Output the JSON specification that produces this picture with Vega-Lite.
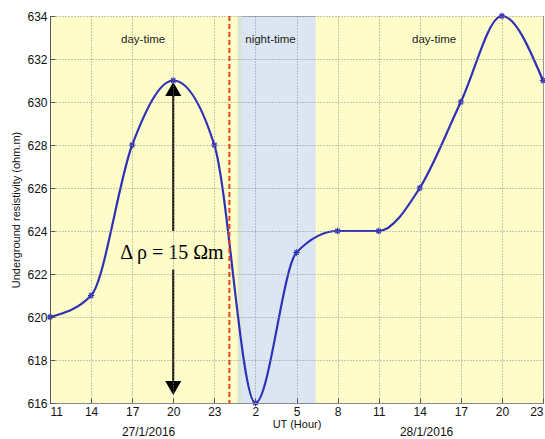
{
  "$schema": "https://vega.github.io/schema/vega-lite/v6.json",
  "width": 493,
  "height": 387,
  "autosize": "none",
  "padding": {"left": 50, "top": 16, "right": 2, "bottom": 36},
  "background": "white",
  "config": {
    "view": {"stroke": "#999999", "strokeWidth": 1},
    "axis": {"labelFont": "Liberation Sans", "labelFontSize": 12, "labelColor": "#111", "titleFont": "Liberation Sans", "titleFontSize": 11, "titleFontWeight": "normal", "titleColor": "#111", "domainColor": "#888", "tickColor": "#555", "gridColor": "#888", "gridDash": [1, 2], "gridOpacity": 0.9}
  },
  "datasets": {
    "curve": [
      {"hour": 11, "rho": 620}, {"hour": 14, "rho": 621}, {"hour": 17, "rho": 628},
      {"hour": 20, "rho": 631}, {"hour": 23, "rho": 628}, {"hour": 26, "rho": 616},
      {"hour": 29, "rho": 623}, {"hour": 32, "rho": 624}, {"hour": 35, "rho": 624},
      {"hour": 38, "rho": 626}, {"hour": 41, "rho": 630}, {"hour": 44, "rho": 634},
      {"hour": 47, "rho": 631}
    ],
    "bands": [
      {"start": 11, "end": 25.0, "period": "day"},
      {"start": 30.4, "end": 47, "period": "day"},
      {"start": 24.7, "end": 30.4, "period": "night"}
    ],
    "labels": [
      {"hour": 17.8, "rho": 632.9, "label": "day-time"},
      {"hour": 27.1, "rho": 632.9, "label": "night-time"},
      {"hour": 39.05, "rho": 632.9, "label": "day-time"}
    ],
    "dates": [
      {"hour": 18.2, "rho": 614.65, "label": "27/1/2016"},
      {"hour": 38.5, "rho": 614.65, "label": "28/1/2016"}
    ],
    "segs": [
      {"hour": 20, "from": 630.4, "to": 624.0},
      {"hour": 20, "from": 622.2, "to": 616.6}
    ],
    "heads": [
      {"hour": 20, "rho": 630.6, "dir": "up"},
      {"hour": 20, "rho": 616.7, "dir": "down"}
    ],
    "note": [{"hour": 19.9, "rho": 623.0, "label": "Δ ρ = 15 Ωm"}],
    "marker": [{"hour": 24.1}]
  },
  "layer": [
    {
      "data": {"name": "bands"},
      "mark": {"type": "rect"},
      "encoding": {
        "x": {"field": "start", "type": "quantitative", "scale": {"domain": [11, 47], "nice": false, "zero": false},
          "axis": {"values": [11, 14, 17, 20, 23, 26, 29, 32, 35, 38, 41, 44, 47], "labelExpr": "datum.value % 24", "title": "UT (Hour)", "tickSize": -5, "labelPadding": 8, "titlePadding": 1, "grid": true, "domain": true, "zindex": 1}},
        "x2": {"field": "end"},
        "color": {"field": "period", "type": "nominal", "scale": {"domain": ["day", "night"], "range": ["#FEFDC9", "#B8CDE6"]}, "legend": null},
        "opacity": {"field": "period", "type": "nominal", "scale": {"domain": ["day", "night"], "range": [1, 0.5]}, "legend": null}
      }
    },
    {
      "data": {"name": "curve"},
      "mark": {"type": "line", "interpolate": "monotone", "color": "#2E31B8", "strokeWidth": 2.2},
      "encoding": {
        "x": {"field": "hour", "type": "quantitative"},
        "y": {"field": "rho", "type": "quantitative", "scale": {"domain": [616, 634], "nice": false, "zero": false},
          "axis": {"values": [616, 618, 620, 622, 624, 626, 628, 630, 632, 634], "title": "Underground resistivity (ohm.m)", "tickSize": -5, "labelPadding": 8, "titlePadding": 5, "grid": true, "domainColor": "#555", "zindex": 1}}
      }
    },
    {
      "data": {"name": "curve"},
      "mark": {"type": "point", "shape": "M-1,0L1,0M0,-1L0,1M-0.7,-0.7L0.7,0.7M-0.7,0.7L0.7,-0.7", "size": 40, "strokeWidth": 1.2, "color": "#2E31B8", "filled": false, "opacity": 1},
      "encoding": {"x": {"field": "hour", "type": "quantitative"}, "y": {"field": "rho", "type": "quantitative"}}
    },
    {
      "data": {"name": "marker"},
      "mark": {"type": "rule", "color": "#E8401C", "strokeWidth": 2, "strokeDash": [5, 3]},
      "encoding": {"x": {"field": "hour", "type": "quantitative"}}
    },
    {
      "data": {"name": "segs"},
      "mark": {"type": "rule", "color": "black", "strokeWidth": 2},
      "encoding": {"x": {"field": "hour", "type": "quantitative"}, "y": {"field": "from", "type": "quantitative"}, "y2": {"field": "to"}}
    },
    {
      "data": {"name": "heads"},
      "mark": {"type": "point", "filled": true, "color": "black", "opacity": 1, "size": 260},
      "encoding": {
        "x": {"field": "hour", "type": "quantitative"},
        "y": {"field": "rho", "type": "quantitative"},
        "shape": {"field": "dir", "type": "nominal", "scale": {"domain": ["up", "down"], "range": ["triangle-up", "triangle-down"]}, "legend": null}
      }
    },
    {
      "data": {"name": "note"},
      "mark": {"type": "text", "font": "Liberation Serif", "fontSize": 20, "color": "black"},
      "encoding": {"x": {"field": "hour", "type": "quantitative"}, "y": {"field": "rho", "type": "quantitative"}, "text": {"field": "label"}}
    },
    {
      "data": {"name": "labels"},
      "mark": {"type": "text", "font": "Liberation Sans", "fontSize": 11.5, "color": "#222"},
      "encoding": {"x": {"field": "hour", "type": "quantitative"}, "y": {"field": "rho", "type": "quantitative"}, "text": {"field": "label"}}
    },
    {
      "data": {"name": "dates"},
      "mark": {"type": "text", "font": "Liberation Sans", "fontSize": 12, "color": "#111"},
      "encoding": {"x": {"field": "hour", "type": "quantitative"}, "y": {"field": "rho", "type": "quantitative"}, "text": {"field": "label"}}
    }
  ]
}
